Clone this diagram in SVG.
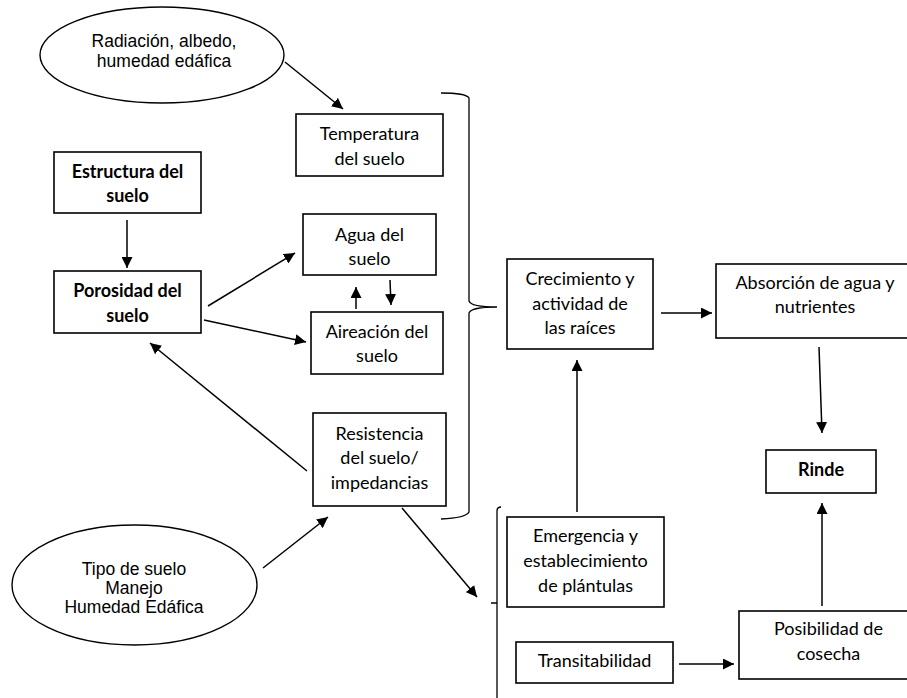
<svg xmlns="http://www.w3.org/2000/svg" width="907" height="698" viewBox="0 0 907 698">
<defs>
<marker id="ah" viewBox="0 0 10 10" refX="10" refY="5" markerWidth="11" markerHeight="11" markerUnits="userSpaceOnUse" orient="auto">
<path d="M0,0 L10,5 L0,10 Z" fill="#000"/>
</marker>
<style>
.box{fill:#fff;stroke:#000;stroke-width:1.6}
.ell{fill:#fff;stroke:#000;stroke-width:1.4}
.t{font-family:Lato,"Liberation Sans",sans-serif;font-size:18px;text-anchor:middle;fill:#000}
.b{font-weight:bold}
.a{font-family:"Liberation Sans",Arial,sans-serif;font-size:17.5px;text-anchor:middle;fill:#000}
.c{fill:none;stroke:#000;stroke-width:1.5}
.br{fill:none;stroke:#000;stroke-width:1.3}
</style>
</defs>
<rect width="907" height="698" fill="#fff"/>

<g id="connectors">
<line class="c" x1="285" y1="62" x2="343" y2="109" marker-end="url(#ah)"/>
<line class="c" x1="127" y1="220" x2="127" y2="268" marker-end="url(#ah)"/>
<line class="c" x1="208" y1="306" x2="295" y2="253" marker-end="url(#ah)"/>
<line class="c" x1="204" y1="320" x2="306" y2="342" marker-end="url(#ah)"/>
<line class="c" x1="356" y1="309" x2="356" y2="287" marker-end="url(#ah)"/>
<line class="c" x1="390" y1="280" x2="391" y2="305" marker-end="url(#ah)"/>
<line class="c" x1="307" y1="471" x2="150" y2="343" marker-end="url(#ah)"/>
<line class="c" x1="263" y1="568" x2="328" y2="517" marker-end="url(#ah)"/>
<line class="c" x1="402" y1="508" x2="477" y2="597" marker-end="url(#ah)"/>
<line class="c" x1="577" y1="512" x2="577" y2="360" marker-end="url(#ah)"/>
<line class="c" x1="661" y1="313" x2="712" y2="313" marker-end="url(#ah)"/>
<line class="c" x1="819" y1="347" x2="822" y2="433" marker-end="url(#ah)"/>
<line class="c" x1="822" y1="606" x2="822" y2="503" marker-end="url(#ah)"/>
<line class="c" x1="679" y1="664" x2="734" y2="664" marker-end="url(#ah)"/>
<path class="br" d="M441,93 Q466,93 469,98 L469,301 Q471,307 497,307 Q471,307 469,313 L469,512 Q466,518 441,519"/>
<path class="br" d="M501,507 Q497,507 497,511 L497,698 M491,603 L497,603"/>
</g>

<g id="n-radiacion">
<ellipse class="ell" cx="162" cy="55" rx="122" ry="48"/>
<text class="a" x="164" y="47">Radiación, albedo,</text>
<text class="a" x="164" y="67">humedad edáfica</text>
</g>

<g id="n-temperatura">
<rect class="box" x="296" y="114" width="147" height="62"/>
<text class="t" x="369.5" y="140">Temperatura</text>
<text class="t" x="369.5" y="165">del suelo</text>
</g>

<g id="n-estructura">
<rect class="box" x="54" y="152" width="147" height="61"/>
<text class="t b" x="127.5" y="178">Estructura del</text>
<text class="t b" x="127.5" y="202">suelo</text>
</g>

<g id="n-agua">
<rect class="box" x="303" y="214" width="133" height="61"/>
<text class="t" x="369.5" y="241">Agua del</text>
<text class="t" x="369.5" y="265">suelo</text>
</g>

<g id="n-porosidad">
<rect class="box" x="54" y="271" width="147" height="62"/>
<text class="t b" x="127.5" y="297">Porosidad del</text>
<text class="t b" x="127.5" y="322">suelo</text>
</g>

<g id="n-aireacion">
<rect class="box" x="311" y="312" width="132" height="62"/>
<text class="t" x="377" y="338">Aireación del</text>
<text class="t" x="377" y="362">suelo</text>
</g>

<g id="n-resistencia">
<rect class="box" x="313" y="413" width="133" height="93"/>
<text class="t" x="379.5" y="440">Resistencia</text>
<text class="t" x="379.5" y="464">del suelo/</text>
<text class="t" x="379.5" y="489">impedancias</text>
</g>

<g id="n-tipo">
<ellipse class="ell" cx="134.5" cy="585" rx="122.5" ry="60"/>
<text class="a" x="134" y="575">Tipo de suelo</text>
<text class="a" x="134" y="594">Manejo</text>
<text class="a" x="134" y="613">Humedad Edáfica</text>
</g>

<g id="n-crecimiento">
<rect class="box" x="507" y="259" width="146" height="90"/>
<text class="t" x="580" y="285">Crecimiento y</text>
<text class="t" x="580" y="310">actividad de</text>
<text class="t" x="580" y="334">las raíces</text>
</g>

<g id="n-absorcion">
<rect class="box" x="716" y="264" width="200" height="74"/>
<text class="t" x="815" y="289">Absorción de agua y</text>
<text class="t" x="815" y="313">nutrientes</text>
</g>

<g id="n-rinde">
<rect class="box" x="766" y="450" width="110" height="43"/>
<text class="t b" x="821" y="476">Rinde</text>
</g>

<g id="n-emergencia">
<rect class="box" x="507" y="517" width="157" height="90"/>
<text class="t" x="585.5" y="542">Emergencia y</text>
<text class="t" x="585.5" y="567">establecimiento</text>
<text class="t" x="585.5" y="592">de plántulas</text>
</g>

<g id="n-transitabilidad">
<rect class="box" x="516" y="642" width="157" height="41"/>
<text class="t" x="594.5" y="667">Transitabilidad</text>
</g>

<g id="n-posibilidad">
<rect class="box" x="739" y="611" width="180" height="68"/>
<text class="t" x="828.5" y="635">Posibilidad de</text>
<text class="t" x="828.5" y="660">cosecha</text>
</g>
</svg>
